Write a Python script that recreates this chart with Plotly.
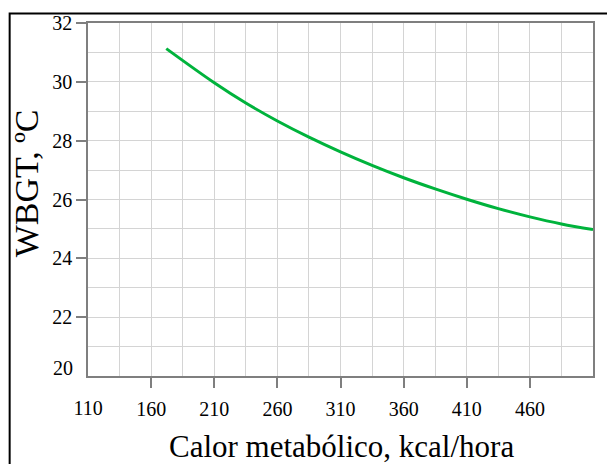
import plotly.graph_objects as go

# Data
calor_metabolico = [172, 210, 235, 260, 285, 310, 335, 360, 385, 410, 435, 460, 485, 510]
wbgt = [31.13, 29.97, 29.28, 28.67, 28.12, 27.62, 27.16, 26.74, 26.36, 26.01, 25.69, 25.41, 25.17, 24.98]

x_tickvals = [110, 160, 210, 260, 310, 360, 410, 460]
x_ticktext = ["110", "160", "210", "260", "310", "360", "410", "460"]
y_tickvals = [20, 22, 24, 26, 28, 30, 32]
y_ticktext = ["20", "22", "24", "26", "28", "30", "32"]

x_title = "Calor metabólico, kcal/hora"
y_title = "WBGT, ºC"

FONT = "Liberation Serif"
GRID = "#d4d4d4"
AXIS = "#7f7f7f"
TICKSIZE = 20

W, H = 607, 464
ml, mr, mt, mb = 88, 13, 19, 88
pw, ph = W - ml - mr, H - mt - mb

fig = go.Figure()
fig.add_trace(go.Scatter(
    x=calor_metabolico, y=wbgt, mode="lines",
    line=dict(color="#00b33c", width=3, shape="spline", smoothing=1.0),
    showlegend=False, hoverinfo="skip",
))
# invisible companion trace so the overlay axes (first tick labels) render
fig.add_trace(go.Scatter(
    x=calor_metabolico, y=wbgt, mode="lines", xaxis="x2", yaxis="y2",
    line=dict(color="rgba(0,0,0,0)", width=0),
    showlegend=False, hoverinfo="skip",
))

tickfont = dict(size=TICKSIZE, family=FONT, color="#000000")

fig.update_layout(
    width=W, height=H,
    margin=dict(l=ml, r=mr, t=mt, b=mb, pad=0),
    paper_bgcolor="white", plot_bgcolor="white",
    font=dict(family=FONT, color="#000000", size=TICKSIZE),
    xaxis=dict(
        range=[110, 510], tickvals=x_tickvals[1:], ticktext=x_ticktext[1:],
        ticks="outside", ticklen=10, tickwidth=1.5, tickcolor=AXIS,
        ticklabelstandoff=4,
        showgrid=True, gridcolor=GRID, gridwidth=1,
        minor=dict(dtick=25, tick0=110, showgrid=True, gridcolor=GRID, gridwidth=1),
        showline=True, linecolor=AXIS, linewidth=1.5, mirror=True,
        zeroline=False, tickfont=tickfont,
    ),
    xaxis2=dict(
        range=[110, 510], overlaying="x", anchor="y", side="bottom",
        tickvals=x_tickvals[:1], ticktext=x_ticktext[:1],
        ticks="outside", ticklen=10, tickcolor="rgba(0,0,0,0)",
        ticklabelstandoff=4,
        showgrid=False, showline=False, zeroline=False, tickfont=tickfont,
    ),
    yaxis=dict(
        range=[20, 32], tickvals=y_tickvals[1:], ticktext=y_ticktext[1:],
        ticks="outside", ticklen=10, tickwidth=1.5, tickcolor=AXIS,
        showgrid=True, gridcolor=GRID, gridwidth=1,
        minor=dict(dtick=1, tick0=20, showgrid=True, gridcolor=GRID, gridwidth=1),
        showline=True, linecolor=AXIS, linewidth=1.5, mirror=True,
        zeroline=False, tickfont=tickfont,
    ),
    yaxis2=dict(
        range=[20, 32], overlaying="y", anchor="x", side="left",
        tickvals=y_tickvals[:1], ticktext=y_ticktext[:1],
        ticks="outside", ticklen=10, tickcolor="rgba(0,0,0,0)",
        ticklabelshift=-8,
        showgrid=False, showline=False, zeroline=False, tickfont=tickfont,
    ),
    annotations=[
        dict(text=x_title, xref="paper", yref="paper",
             x=(341.7 - ml) / pw, y=(mt + ph - 447.5) / ph,
             xanchor="center", yanchor="middle", showarrow=False,
             font=dict(size=31, family=FONT, color="#000000")),
        dict(text=y_title, xref="paper", yref="paper", textangle=-90,
             x=(26.5 - ml) / pw, y=(mt + ph - 181.5) / ph,
             xanchor="center", yanchor="middle", showarrow=False,
             font=dict(size=34, family=FONT, color="#000000")),
    ],
    shapes=[dict(
        type="rect", xref="paper", yref="paper",
        x0=(9.5 - ml) / pw, x1=(W + 20 - ml) / pw,
        y0=-(H + 20 - mt - ph) / ph, y1=(mt + ph - 9.5) / ph,
        line=dict(color="#000000", width=2), fillcolor="rgba(0,0,0,0)",
        layer="above",
    )],
)

fig.write_html("out.html")
